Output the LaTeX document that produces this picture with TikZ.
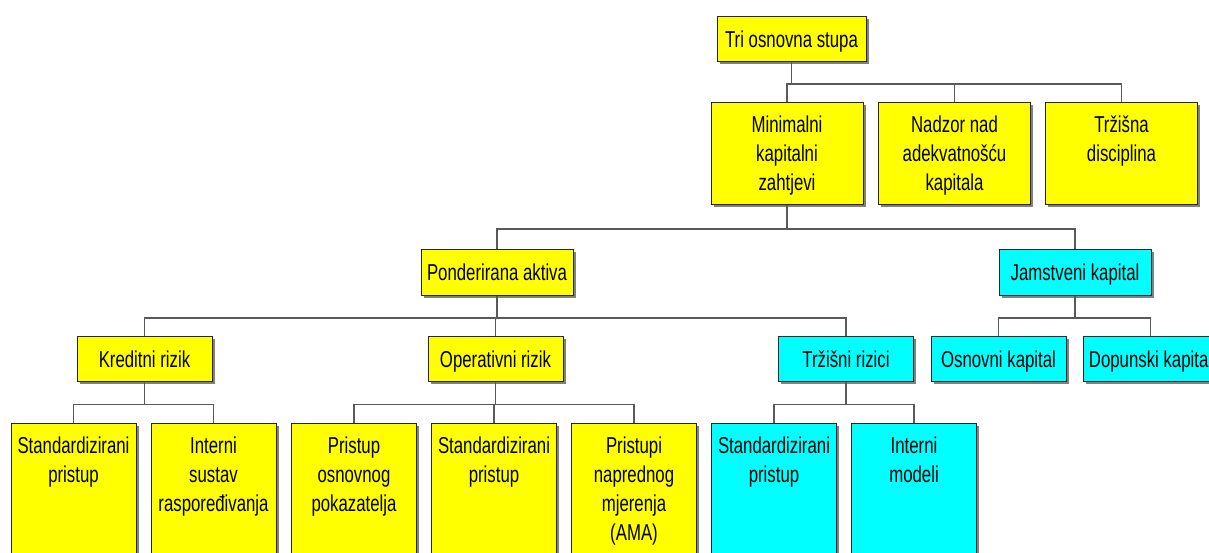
\documentclass[tikz,border=0pt]{standalone}
\usepackage{fontspec}
\setmainfont{Liberation Sans}[FakeStretch=0.73]
\usetikzlibrary{shadows}
\usetikzlibrary{calc}

\definecolor{boxyellow}{RGB}{255,255,0}
\definecolor{boxcyan}{RGB}{0,255,255}

\newcommand{\pillartext}[1]{\parbox[t][41pt][t]{72pt}{\centering\strut#1}}
\newcommand{\methodtext}[1]{\parbox[t][65pt][t]{58.5pt}{\centering\strut#1}}

\begin{document}
\begin{tikzpicture}[x=0.5pt,y=-0.5pt,
  box/.style={draw=black!85,line width=0.5pt,inner xsep=2pt,anchor=north,
    drop shadow={opacity=1,shadow xshift=1.3pt,shadow yshift=-1.3pt},
    font=\fontsize{11.5}{14.5}\selectfont},
  flat/.style={box,text height=8.3pt,text depth=0pt,inner ysep=0pt,minimum height=22.5pt},
  tall/.style={box,inner ysep=5pt},
  headbox/.style={flat,minimum width=74.5pt},
  sumbox/.style={flat,minimum width=76pt,minimum height=23pt},
  riskbox/.style={flat,minimum width=67.5pt},
  yel/.style={fill=boxyellow},
  cya/.style={fill=boxcyan},
  link/.style={draw=black!65,line width=0.8pt}]
\clip (0,0) rectangle (1209,552);

\node[headbox,yel] (tri) at (791.5,16) {Tri osnovna stupa};

\node[tall,yel] (min) at (787,102) {\pillartext{Minimalni\\kapitalni\\zahtjevi}};
\node[tall,yel] (nad) at (954.5,102) {\pillartext{Nadzor nad\\adekvatnošću\\kapitala}};
\node[tall,yel] (trz) at (1121.5,102) {\pillartext{Tržišna\\disciplina}};

\node[sumbox,yel] (pon) at (497,249) {Ponderirana aktiva};
\node[sumbox,cya] (jam) at (1075,249) {Jamstveni kapital};

\node[riskbox,yel] (kre) at (144.5,336) {Kreditni rizik};
\node[riskbox,yel] (ope) at (495.5,336) {Operativni rizik};
\node[riskbox,cya] (trr) at (846,336) {Tržišni rizici};
\node[riskbox,cya] (osn) at (998.5,336) {Osnovni kapital};
\node[riskbox,cya] (dop) at (1150.5,336) {Dopunski kapital};

\node[tall,yel] (ks) at (73.5,423) {\methodtext{Standardizirani\\pristup}};
\node[tall,yel] (ki) at (213.5,423) {\methodtext{Interni\\sustav\\raspoređivanja}};
\node[tall,yel] (op) at (354,423) {\methodtext{Pristup\\osnovnog\\pokazatelja}};
\node[tall,yel] (os) at (494,423) {\methodtext{Standardizirani\\pristup}};
\node[tall,yel] (oa) at (634,423) {\methodtext{Pristupi\\naprednog\\mjerenja\\(AMA)}};
\node[tall,cya] (ts) at (774,423) {\methodtext{Standardizirani\\pristup}};
\node[tall,cya] (ti) at (914,423) {\methodtext{Interni\\modeli}};

\foreach \p/\c in {tri/min,tri/nad,tri/trz,min/pon,min/jam,pon/kre,pon/ope,pon/trr,
  jam/osn,jam/dop,kre/ks,kre/ki,ope/op,ope/os,ope/oa,trr/ts,trr/ti}
  \draw[link] (\p.south) |- ($(\p.south)!0.55!(\c.north)$) -| (\c.north);
\end{tikzpicture}
\end{document}
